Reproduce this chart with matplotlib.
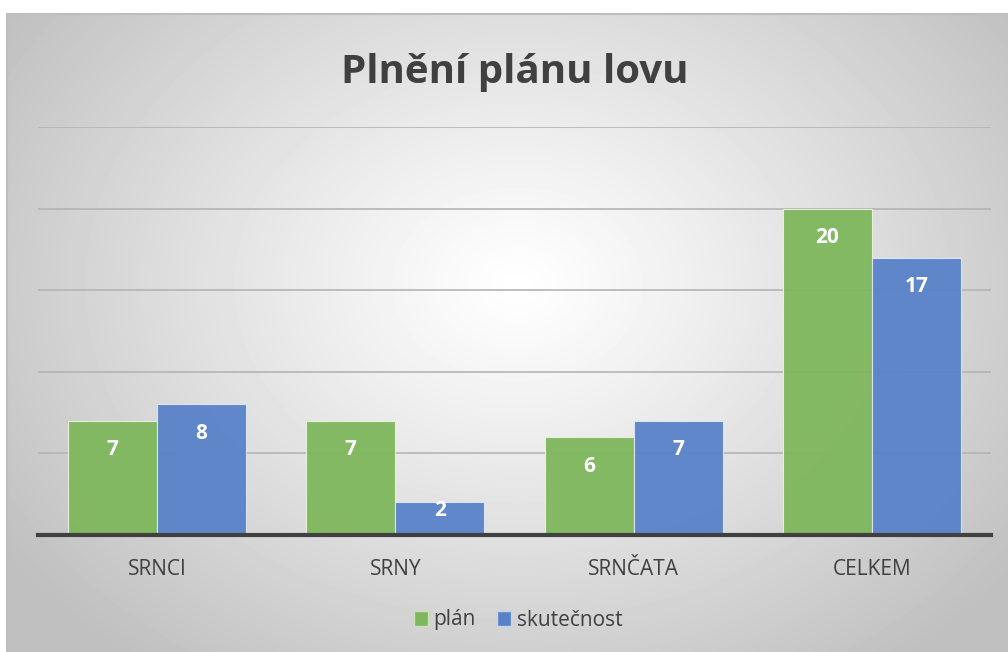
import numpy as np
import matplotlib.pyplot as plt
from matplotlib.patches import Patch

kategorie = ["SRNCI", "SRNY", "SRNČATA", "CELKEM"]
plan = [7, 7, 6, 20]
skutecnost = [8, 2, 7, 17]

zelena = "#7fb75c"
modra = "#5882c8"
seda_text = "#404040"

plt.rcParams['font.family'] = ['Open Sans', 'DejaVu Sans']

fig = plt.figure(figsize=(10.08, 6.52), dpi=100)
fig.patch.set_facecolor("white")

# pozadi - radialni prechod
bg = fig.add_axes([7/1008, 0, 1 - 7/1008, 1 - 14/652])
yy, xx = np.mgrid[0:638, 0:1001]
r = np.sqrt(((xx - 510) / 620.0) ** 2 + ((yy - 270) / 480.0) ** 2)
r = np.clip(r, 0, 1)
val = 1.0 - 0.25 * r ** 1.1
bg.imshow(val, cmap="gray", vmin=0, vmax=1, aspect="auto", interpolation="bilinear")
bg.set_xticks([])
bg.set_yticks([])
for s in ["top", "left"]:
    bg.spines[s].set_color("#bdbdbd")
    bg.spines[s].set_linewidth(1.5)
for s in ["right", "bottom"]:
    bg.spines[s].set_visible(False)

ax = fig.add_axes([38/1008, (652 - 535)/652, 953/1008, 408/652])
ax.set_facecolor("none")
x = np.arange(len(kategorie))
w = 0.374
b1 = ax.bar(x - w/2, plan, w, color=zelena, edgecolor="#e8f2e0", linewidth=0.8, alpha=0.95, zorder=3)
b2 = ax.bar(x + w/2, skutecnost, w, color=modra, edgecolor="#dfe7f5", linewidth=0.8, alpha=0.95, zorder=3)

for bars in (b1, b2):
    for b in bars:
        h = b.get_height()
        posun = -21 if h >= 4 else -6
        ax.annotate(str(int(h)), (b.get_x() + b.get_width()/2, h),
                    xytext=(0, posun), textcoords="offset points",
                    ha="center", va="center", color="white",
                    fontsize=15, fontweight="bold", zorder=5)

ax.set_xlim(-0.5, 3.5)
ax.set_ylim(0, 25)
ax.set_yticks([5, 10, 15, 20, 25])
ax.yaxis.grid(True, color="#b4b4b4", linewidth=1.2, zorder=4)
ax.tick_params(axis="y", left=False, labelleft=False)
ax.set_xticks(x)
ax.set_xticklabels(kategorie, fontsize=15, color=seda_text)
ax.tick_params(axis="x", length=0, pad=17)
for s in ["top", "left", "right"]:
    ax.spines[s].set_visible(False)
ax.spines["bottom"].set_color(seda_text)
ax.spines["bottom"].set_linewidth(3)
ax.spines["bottom"].set_zorder(6)

fig.text(515/1008, 1 - 73/652, "Plnění plánu lovu", ha="center", va="center",
         fontsize=29, fontweight="bold", color=seda_text)

handles = [Patch(facecolor=zelena, edgecolor="#c8e0b8", label="plán"),
           Patch(facecolor=modra, edgecolor="#c4d3ee", label="skutečnost")]
fig.legend(handles=handles, loc="center", bbox_to_anchor=(518/1008, 1 - 620/652),
           ncol=2, frameon=False, fontsize=15, labelcolor=seda_text,
           handlelength=0.7, handleheight=0.7, handletextpad=0.25, columnspacing=1.0)

fig.savefig("out.png", dpi=100)
